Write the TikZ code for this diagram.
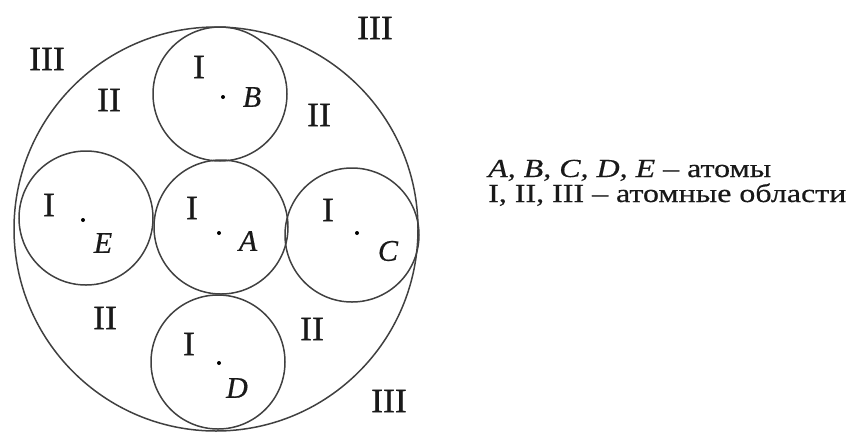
\documentclass[tikz,border=0pt]{standalone}
\usepackage{fontspec}
\setmainfont{Liberation Serif}[FakeBold=0.6]
\newfontfamily\legfont{Liberation Serif}[FakeStretch=1.23,FakeBold=0.5]
\newfontfamily\numfont{Liberation Serif}[FakeStretch=1.05,FakeBold=0.8]
\newfontfamily\letfont{Liberation Serif}[FakeBold=0.6]
\begin{document}
\begin{tikzpicture}[x=1pt,y=-1pt,
  ring/.style={draw=black!75,line width=1.5pt,circle,inner sep=0pt,minimum size=#1},
  atom/.style={ring=134pt},
  dotmark/.style={fill=black,circle,inner sep=0pt,minimum size=4pt},
  num/.style={inner sep=0pt,text=black!90,font=\numfont\fontsize{34}{36}\selectfont},
  let/.style={inner sep=0pt,text=black!90,font=\letfont\fontsize{30}{32}\selectfont\itshape},
  leg/.style={inner sep=0pt,anchor=base west,text=black!90,font=\legfont\fontsize{26}{28}\selectfont}]
\useasboundingbox (0,0) rectangle (849,432);
% outer circle
\node[ring=404pt] (outer) at (216,229) {};
% atoms
\node[atom] (cB) at (220,94) {};
\node[atom] (cA) at (221,227) {};
\node[atom] (cE) at (86,218) {};
\node[atom] (cC) at (352,235) {};
\node[atom] (cD) at (218,362) {};
% nuclei dots
\node[dotmark] (dB) at (223,97) {};
\node[dotmark] (dA) at (219,233) {};
\node[dotmark] (dE) at (83,220) {};
\node[dotmark] (dC) at (357,233) {};
\node[dotmark] (dD) at (219,363) {};
% atom letters
\node[let] (lB) at (252,97) {B};
\node[let] (lA) at (248,241) {A};
\node[let] (lE) at (103,243) {E};
\node[let] (lC) at (388,251) {C};
\node[let] (lD) at (237,388) {D};
% region I
\node[num] (iB) at (199,67) {I};
\node[num] (iA) at (192,208) {I};
\node[num] (iE) at (49,205) {I};
\node[num] (iC) at (328,210) {I};
\node[num] (iD) at (189,344) {I};
% region II
\node[num] (iiNW) at (109,100) {II};
\node[num] (iiNE) at (319,115) {II};
\node[num] (iiSW) at (105,318) {II};
\node[num] (iiSE) at (312,329) {II};
% region III
\node[num] (iiiNW) at (47,59) {III};
\node[num] (iiiNE) at (375,28) {III};
\node[num] (iiiSE) at (389,401) {III};
% legend
\node[leg] (leg1) at (488,177) {\textit{A, B, C, D, E} – атомы};
\node[leg] (leg2) at (488,202) {I, II, III – атомные области};
\end{tikzpicture}
\end{document}
